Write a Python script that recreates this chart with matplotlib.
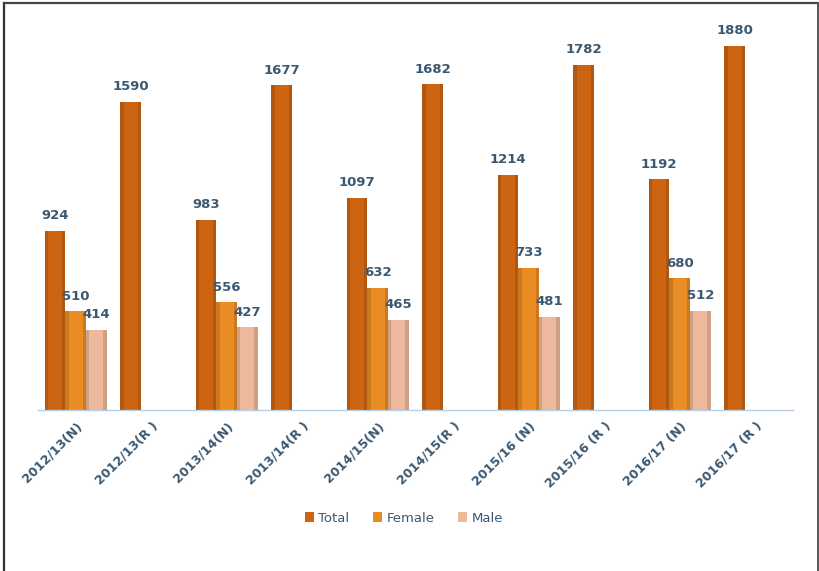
import numpy as np
import matplotlib.pyplot as plt
from matplotlib.patches import Rectangle

categories = ["2012/13(N)", "2012/13(R )", "2013/14(N)", "2013/14(R )",
              "2014/15(N)", "2014/15(R )", "2015/16 (N)", "2015/16 (R )",
              "2016/17 (N)", "2016/17 (R )"]
total = [924, 1590, 983, 1677, 1097, 1682, 1214, 1782, 1192, 1880]
female = [510, None, 556, None, 632, None, 733, None, 680, None]
male = [414, None, 427, None, 465, None, 481, None, 512, None]

series = [("Total", total, "#CC6412"),
          ("Female", female, "#EA8C24"),
          ("Male", male, "#EDB89C")]

fig = plt.figure(figsize=(8.19, 5.71), dpi=100)
ax = fig.add_axes([38 / 819, 1 - 410 / 571, 755 / 819, 375 / 571])

x = np.arange(len(categories))
width = 0.272
text_color = "#3B5870"

for i, (name, vals, color) in enumerate(series):
    offs = (i - 1) * width
    xs = [xi + offs for xi, v in zip(x, vals) if v is not None]
    hs = [v for v in vals if v is not None]
    bars = ax.bar(xs, hs, width=width, color=color, label=name,
                  edgecolor="none", zorder=2)
    # darker side edges to suggest the shaded look
    for b in bars:
        w = b.get_width()
        ax.add_patch(Rectangle((b.get_x(), 0), w * 0.15, b.get_height(),
                               color="black", alpha=0.13, lw=0, zorder=3))
        ax.add_patch(Rectangle((b.get_x() + w * 0.85, 0), w * 0.15, b.get_height(),
                               color="black", alpha=0.13, lw=0, zorder=3))
        ax.text(b.get_x() + w / 2, b.get_height() + 45, str(int(b.get_height())),
                ha="center", va="bottom", fontsize=9.5, color=text_color,
                fontweight="semibold")

ax.set_xlim(-0.5, len(categories) - 0.5)
ax.set_ylim(0, 1937)
ax.set_xticks(x)
ax.set_xticklabels(categories, rotation=45, ha="right", rotation_mode="anchor",
                   fontsize=9, color=text_color, fontweight="semibold")
ax.tick_params(axis="x", length=0, pad=7)
ax.set_yticks([])
for s in ["top", "right", "left"]:
    ax.spines[s].set_visible(False)
ax.spines["bottom"].set_color("#B9CFE2")
ax.spines["bottom"].set_linewidth(1)

leg = fig.legend(loc="center", bbox_to_anchor=(404 / 819, 1 - 518 / 571), ncol=3,
                 frameon=False, fontsize=9.5, handlelength=0.7, handleheight=0.7,
                 handletextpad=0.3, columnspacing=1.8)
for t in leg.get_texts():
    t.set_color(text_color)

# outer frame (left, top, right)
fig.add_artist(plt.Line2D([4 / 819, 4 / 819], [0, 1 - 3 / 571], color="#333333", lw=1.6))
fig.add_artist(plt.Line2D([4 / 819, 818 / 819], [1 - 3 / 571, 1 - 3 / 571], color="#444444", lw=1.6))
fig.add_artist(plt.Line2D([817.5 / 819, 817.5 / 819], [0, 1 - 3 / 571], color="#555555", lw=1.4))

fig.savefig("out.png", dpi=100)
